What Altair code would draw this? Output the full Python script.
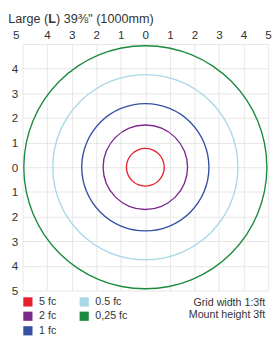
import math
import altair as alt
import pandas as pd

# ---- data ----
LEVELS = ["5 fc", "2 fc", "1 fc", "0.5 fc", "0,25 fc"]
RADII_FT = [0.77, 1.72, 2.59, 3.77, 4.95]
COLORS = ["#e8202e", "#7b2a8c", "#3550a3", "#a8d8e8", "#1b8a3e"]
GRID_TICKS = list(range(-5, 6))
TITLE_PARTS = ["Large (", "L", ") 39\u215c\" (1000mm)"]
NOTES = ["Grid width   1:3ft", "Mount height  3ft"]

W = 253
H = 254
FONT = "Liberation Sans"
TXT = "#333333"

rings_df = pd.DataFrame({"level": LEVELS, "r": RADII_FT})
frame_df = pd.DataFrame({"x": GRID_TICKS, "y": GRID_TICKS})

frame = alt.Chart(frame_df).mark_point(opacity=0).encode(
    x=alt.X(
        "x:Q",
        scale=alt.Scale(domain=[-5, 5], nice=False, zero=False),
        axis=alt.Axis(
            orient="top",
            values=GRID_TICKS,
            labelExpr="'' + abs(datum.value)",
            labelOffset={"condition": {"test": "datum.value == -5", "value": -7}, "value": 0},
            title=None,
            grid=True,
            gridColor="#e6e6e6",
            ticks=False,
            domain=False,
            labelPadding=3,
            labelFontSize=12,
            labelColor=TXT,
            labelFlush=False,
        ),
    ),
    y=alt.Y(
        "y:Q",
        scale=alt.Scale(domain=[-5, 5], nice=False, zero=False),
        axis=alt.Axis(
            orient="left",
            values=GRID_TICKS,
            labelExpr="datum.value == 5 ? '' : '' + abs(datum.value)",
            title=None,
            grid=True,
            gridColor="#e6e6e6",
            ticks=False,
            domain=False,
            labelPadding=5,
            labelFontSize=12,
            labelColor=TXT,
            labelFlush=False,
        ),
    ),
)

rings = alt.Chart(rings_df).mark_arc(
    theta=0, theta2=2 * math.pi, radiusOffset=0.7, radius2Offset=-0.7
).encode(
    radius=alt.Radius(
        "r:Q", scale=alt.Scale(type="linear", domain=[0, 5], range=[0, W / 2])
    ),
    radius2=alt.Radius2("r:Q"),
    color=alt.Color(
        "level:N",
        scale=alt.Scale(domain=LEVELS, range=COLORS),
        legend=alt.Legend(
            orient="none",
            legendX=0,
            legendY=260,
            columns=2,
            title=None,
            symbolType="square",
            symbolSize=90,
            symbolStrokeWidth=0,
            labelFontSize=11,
            labelColor=TXT,
            labelOffset=6,
            padding=0,
            rowPadding=3,
            columnPadding=23,
        ),
    ),
)

title_a = alt.Chart(pd.DataFrame({"t": [TITLE_PARTS[0]]})).mark_text(
    align="left", baseline="alphabetic", fontSize=13, color=TXT
).encode(text="t:N", x=alt.value(-14.7), y=alt.value(-21.7))
title_b = alt.Chart(pd.DataFrame({"t": [TITLE_PARTS[1]]})).mark_text(
    align="left", baseline="alphabetic", fontSize=13, fontWeight="bold", color=TXT
).encode(text="t:N", x=alt.value(26.5), y=alt.value(-21.7))
title_c = alt.Chart(pd.DataFrame({"t": [TITLE_PARTS[2]]})).mark_text(
    align="left", baseline="alphabetic", fontSize=13, color=TXT
).encode(text="t:N", x=alt.value(34.4), y=alt.value(-21.7))

notes = alt.Chart(pd.DataFrame({"t": ["\n".join(NOTES)]})).mark_text(
    align="right", baseline="alphabetic", fontSize=11, color=TXT, lineBreak="\n", lineHeight=12
).encode(text="t:N", x=alt.value(250), y=alt.value(270))

chart = (
    alt.layer(frame, rings, title_a, title_b, title_c, notes)
    .properties(
        width=W,
        height=H,
        autosize=alt.AutoSizeParams(type="none"),
        padding={"left": 15, "top": 32, "right": 4, "bottom": 49},
    )
    .configure(font=FONT)
    .configure_view(stroke=None)
)

chart.save("out.html", embed_options={"renderer": "svg", "actions": False})
